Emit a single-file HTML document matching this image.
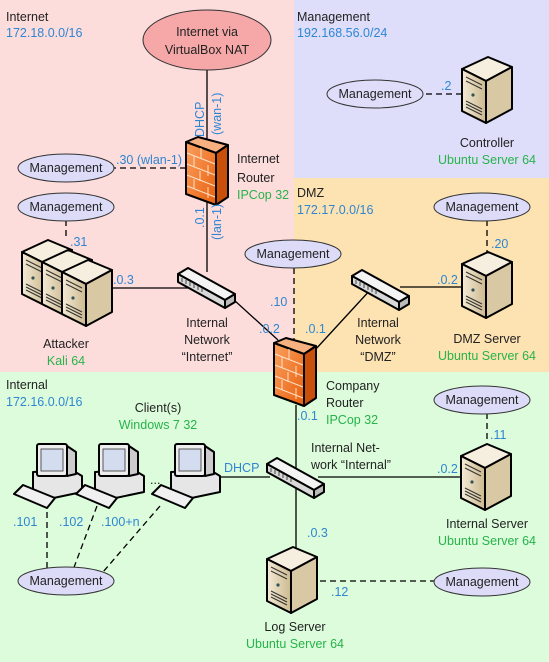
<!DOCTYPE html>
<html><head><meta charset="utf-8"><style>
html,body{margin:0;padding:0;background:#fff}
svg{display:block}
text{font-family:"Liberation Sans",sans-serif;font-size:12.5px;fill:#222}
.b{fill:#2e86d2}.g{fill:#27b34a}
.cl{stroke:#333;stroke-width:1}
</style></head><body>
<svg width="549" height="662" viewBox="0 0 549 662" xmlns="http://www.w3.org/2000/svg">
<defs>
<linearGradient id="fo" x1="0" y1="0" x2="1" y2="1"><stop offset="0" stop-color="#fba060"/><stop offset="1" stop-color="#e8600c"/></linearGradient>
<linearGradient id="sv" x1="0" y1="0" x2="1" y2="0"><stop offset="0" stop-color="#f3ead6"/><stop offset="1" stop-color="#cdb98f"/></linearGradient>
<g id="server">
<polygon points="0,14 26,2 50,12 24,26" fill="#f6efe0" stroke="#000" stroke-width="2" stroke-linejoin="round"/>
<polygon points="0,14 24,26 24,68 0,56" fill="url(#sv)" stroke="#000" stroke-width="2" stroke-linejoin="round"/>
<polygon points="24,26 50,12 50,54 24,68" fill="#d8c8a4" stroke="#000" stroke-width="2" stroke-linejoin="round"/>
<path d="M4,22 L20,30 M4,26 L20,34 M4,46 L20,54 M4,49 L20,57 M4,52 L20,60" stroke="#333" stroke-width="1"/>
<circle cx="11" cy="40" r="1.6" fill="#355"/>
</g>
<g id="fw">
<polygon points="0,5 12,0 42,8 30,16" fill="#f7b080" stroke="#000" stroke-width="2" stroke-linejoin="round"/>
<polygon points="0,5 30,16 30,68 0,57" fill="url(#fo)" stroke="#000" stroke-width="2" stroke-linejoin="round"/>
<polygon points="30,16 42,8 42,60 30,68" fill="#c8500a" stroke="#000" stroke-width="2" stroke-linejoin="round"/>
<path d="M1,16 L29,27 M1,27 L29,38 M1,38 L29,49 M1,49 L29,60 M15,11 L15,22 M8,19 L8,30 M22,28 L22,39 M14,34 L14,44 M8,42 L8,52 M22,50 L22,61" stroke="#fde0c8" stroke-width="1"/>
</g>
<g id="sw">
<polygon points="0,8 10,2 57,28 47,34" fill="#f4f4f4" stroke="#000" stroke-width="2" stroke-linejoin="round"/>
<polygon points="0,8 47,34 47,42 0,16" fill="#d8d8d8" stroke="#000" stroke-width="2" stroke-linejoin="round"/>
<polygon points="47,34 57,28 57,36 47,42" fill="#bbb" stroke="#000" stroke-width="2" stroke-linejoin="round"/>
<path d="M4,12 v4 M8,14 v4 M12,16 v4 M16,18 v4 M20,20 v4 M24,22 v4" stroke="#444" stroke-width="1"/>
</g>
<g id="pc">
<polygon points="19,32 58,30 68,36 68,52 30,60 19,54" fill="#e6e6e6" stroke="#000" stroke-width="2" stroke-linejoin="round"/>
<rect x="23" y="4" width="30" height="32" rx="2" fill="#eee" stroke="#000" stroke-width="2"/>
<polygon points="53,6 62,12 62,34 53,36" fill="#ccc" stroke="#000" stroke-width="2" stroke-linejoin="round"/>
<rect x="27" y="9" width="22" height="22" fill="#d4ddf0" stroke="#555"/>
<polygon points="0,54 9,45 41,58 33,68" fill="#f0f0f0" stroke="#000" stroke-width="2" stroke-linejoin="round"/>
</g>
</defs>
<!-- zones -->
<rect x="0" y="0" width="294" height="372" fill="#fddcdc"/>
<rect x="294" y="0" width="255" height="178" fill="#dedefb"/>
<rect x="294" y="178" width="255" height="194" fill="#fde2b2"/>
<rect x="0" y="372" width="549" height="290" fill="#dcfcdc"/>
<text x="6" y="21">Internet</text><text x="6" y="37" class="b">172.18.0.0/16</text>
<text x="297" y="21">Management</text><text x="297" y="37" class="b">192.168.56.0/24</text>
<text x="297" y="197">DMZ</text><text x="297" y="214" class="b">172.17.0.0/16</text>
<text x="6" y="389">Internal</text><text x="6" y="406" class="b">172.16.0.0/16</text>
<!-- solid lines -->
<g stroke="#000" stroke-width="1.3" fill="none">
<path d="M207,70 V143 M207,200 V272 M110,288 H190 M234,300 L278,340 M315,350 L372,288 M400,287 H462"/>
<path d="M296,405 V548 M220,477 H270 M318,477 H461"/>
</g>
<!-- dashed lines -->
<g stroke="#000" stroke-width="1.3" fill="none" stroke-dasharray="6,4">
<path d="M110,168 H185 M66,220 V240 M294,268 V340 M487,220 V252 M426,94 H462 M487,413 V443 M320,581 H437 M47,512 V570 M97,506 L73,570 M160,506 L103,572"/>
</g>
<!-- clouds -->
<ellipse cx="207" cy="40" rx="64" ry="30" fill="#f6a8a8" class="cl"/>
<text x="207" y="36" text-anchor="middle" font-size="13.5">Internet via</text>
<text x="207" y="54" text-anchor="middle" font-size="13.5">VirtualBox NAT</text>
<g fill="#dcdcf8" class="cl">
<ellipse cx="66" cy="168" rx="48" ry="14"/>
<ellipse cx="66" cy="207" rx="48" ry="14"/>
<ellipse cx="293" cy="254" rx="48" ry="14"/>
<ellipse cx="375" cy="94" rx="48" ry="14" fill="#dedefb"/>
<ellipse cx="482" cy="207" rx="48" ry="14"/>
<ellipse cx="482" cy="400" rx="48" ry="14"/>
<ellipse cx="482" cy="582" rx="48" ry="14"/>
<ellipse cx="66" cy="581" rx="48" ry="14"/>
</g>
<g text-anchor="middle">
<text x="66" y="172">Management</text><text x="66" y="211">Management</text>
<text x="293" y="258">Management</text><text x="375" y="98">Management</text>
<text x="482" y="211">Management</text><text x="482" y="404">Management</text>
<text x="482" y="586">Management</text><text x="66" y="585">Management</text>
</g>
<!-- devices -->
<use href="#fw" x="186" y="137"/>
<use href="#fw" x="274" y="338"/>
<use href="#sw" x="178" y="266"/>
<use href="#sw" x="352" y="268"/>
<use href="#sw" x="267" y="456"/>
<use href="#server" x="22" y="238"/>
<use href="#server" x="42" y="248"/>
<use href="#server" x="62" y="258"/>
<use href="#server" x="462" y="55"/>
<use href="#server" x="462" y="250"/>
<use href="#server" x="461" y="442"/>
<use href="#server" x="267" y="545"/>
<use href="#pc" x="14" y="440"/>
<use href="#pc" x="76" y="440"/>
<use href="#pc" x="152" y="440"/>
<!-- labels -->
<text class="b" transform="translate(204,137) rotate(-90)">DHCP</text>
<text class="b" transform="translate(221,135) rotate(-90)">(wan-1)</text>
<text class="b" transform="translate(204,228) rotate(-90)">.0.1</text>
<text class="b" transform="translate(221,240) rotate(-90)">(lan-1)</text>
<text x="237" y="163">Internet</text><text x="237" y="182">Router</text><text x="237" y="199" class="g">IPCop 32</text>
<text x="116" y="164" class="b">.30 (wlan-1)</text>
<text x="70" y="246" class="b">.31</text>
<text x="113" y="284" class="b">.0.3</text>
<text x="66" y="348" text-anchor="middle">Attacker</text><text x="66" y="365" text-anchor="middle" class="g">Kali 64</text>
<text x="207" y="327" text-anchor="middle">Internal</text><text x="207" y="344" text-anchor="middle">Network</text><text x="207" y="361" text-anchor="middle">“Internet”</text>
<text x="270" y="306" class="b">.10</text>
<text x="259" y="333" class="b">.0.2</text>
<text x="305" y="333" class="b">.0.1</text>
<text x="378" y="327" text-anchor="middle">Internal</text><text x="378" y="344" text-anchor="middle">Network</text><text x="378" y="361" text-anchor="middle">“DMZ”</text>
<text x="437" y="284" class="b">.0.2</text>
<text x="491" y="248" class="b">.20</text>
<text x="487" y="343" text-anchor="middle">DMZ Server</text><text x="487" y="360" text-anchor="middle" class="g">Ubuntu Server 64</text>
<text x="441" y="90" class="b">.2</text>
<text x="487" y="147" text-anchor="middle">Controller</text><text x="487" y="164" text-anchor="middle" class="g">Ubuntu Server 64</text>
<text x="326" y="390">Company</text><text x="326" y="407">Router</text><text x="326" y="424" class="g">IPCop 32</text>
<text x="297" y="420" class="b">.0.1</text>
<text x="311" y="452">Internal Net-</text><text x="311" y="469">work “Internal”</text>
<text x="158" y="412" text-anchor="middle">Client(s)</text><text x="158" y="429" text-anchor="middle" class="g">Windows 7 32</text>
<text x="224" y="472" class="b">DHCP</text>
<text x="150" y="484">...</text>
<text x="437" y="473" class="b">.0.2</text>
<text x="490" y="439" class="b">.11</text>
<text x="487" y="528" text-anchor="middle">Internal Server</text><text x="487" y="545" text-anchor="middle" class="g">Ubuntu Server 64</text>
<text x="13" y="526" class="b">.101</text><text x="59" y="526" class="b">.102</text><text x="101" y="526" class="b">.100+n</text>
<text x="307" y="537" class="b">.0.3</text>
<text x="331" y="596" class="b">.12</text>
<text x="295" y="631" text-anchor="middle">Log Server</text><text x="295" y="648" text-anchor="middle" class="g">Ubuntu Server 64</text>
</svg>
</body></html>
